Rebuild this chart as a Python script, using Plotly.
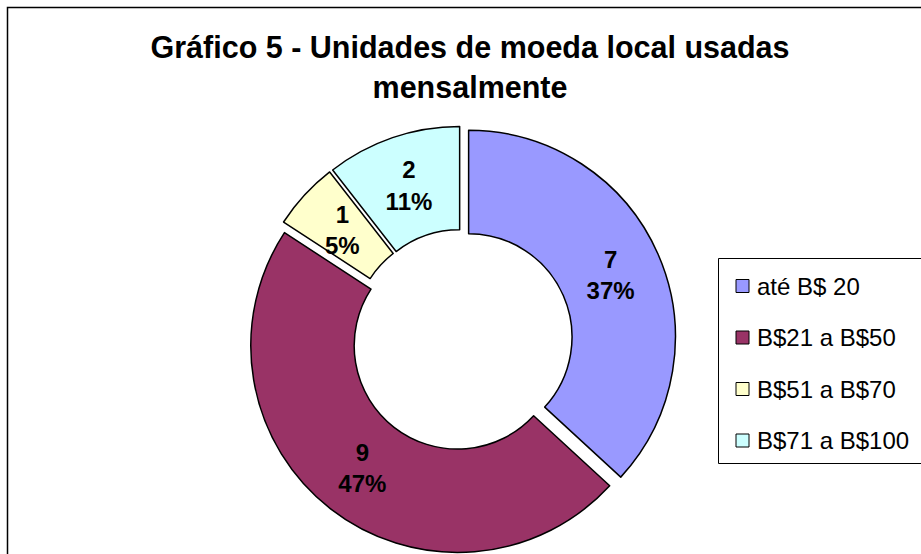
import math
import plotly.graph_objects as go

categories = ["até B$ 20", "B$21 a B$50", "B$51 a B$70", "B$71 a B$100"]
values = [7, 9, 1, 2]
colors = ["#9999FF", "#993366", "#FFFFCC", "#CCFFFF"]
title_text = "Gráfico 5 - Unidades de moeda local usadas<br>mensalmente"

W, H = 921, 554
FONT = "Liberation Sans, Arial, sans-serif"

# pie geometry (layout constants, pixels)
CX, CY = 462, 340          # centre of pie from left / top
BOX = 428                  # domain box size
PULL = 0.035
HOLE = 0.5
R = BOX / 2 / (1 + PULL)

# slices whose label is too small for plotly's inside-fit get an annotation instead
small = [v / sum(values) < 0.08 for v in values]

fig = go.Figure()
fig.add_trace(go.Pie(
    labels=categories,
    values=values,
    sort=False,
    direction="clockwise",
    rotation=0,
    hole=HOLE,
    pull=[PULL] * len(values),
    marker=dict(colors=colors, line=dict(color="black", width=1.5)),
    texttemplate="<b>%{value}<br>%{percent:.0%}</b>",
    textposition=["none" if s else "inside" for s in small],
    insidetextorientation="horizontal",
    textfont=dict(family=FONT, size=24, color="black"),
    domain=dict(x=[(CX - BOX / 2) / W, (CX + BOX / 2) / W], y=[0, BOX / H]),
    showlegend=False,
    hoverinfo="label+value+percent",
))

annotations = []
total = sum(values)
cum = 0
for v, s in zip(values, small):
    mid = (cum + v / 2) / total * 2 * math.pi
    cum += v
    if not s:
        continue
    rr = PULL * R + (1 + HOLE) / 2 * R
    px = CX + rr * math.sin(mid)
    py = CY - rr * math.cos(mid)
    annotations.append(dict(
        text="<b>%d<br>%d%%</b>" % (v, round(100 * v / total)),
        xref="paper", yref="paper", x=px / W, y=1 - py / H,
        xanchor="center", yanchor="middle", showarrow=False,
        font=dict(family=FONT, size=24, color="black")))

shapes = [
    # chart frame
    dict(type="rect", xref="paper", yref="paper",
         x0=7.5 / W, x1=1.1, y0=-0.1, y1=1 - 7.5 / H,
         line=dict(color="black", width=1.5), fillcolor="rgba(0,0,0,0)", layer="below"),
    # legend box
    dict(type="rect", xref="paper", yref="paper",
         x0=718.5 / W, x1=1.1, y0=1 - 463.5 / H, y1=1 - 258.5 / H,
         line=dict(color="black", width=1), fillcolor="white", layer="below"),
]
leg_y0, leg_dy = 286, 51.5
for i, (cat, col) in enumerate(zip(categories, colors)):
    yc = leg_y0 + i * leg_dy
    shapes.append(dict(type="rect", xref="paper", yref="paper",
                       x0=736 / W, x1=749 / W,
                       y0=1 - (yc + 6.5) / H, y1=1 - (yc - 6.5) / H,
                       line=dict(color="black", width=1), fillcolor=col))
    annotations.append(dict(text=cat, xref="paper", yref="paper",
                            x=755 / W, y=1 - yc / H, xanchor="left", yanchor="middle",
                            showarrow=False,
                            font=dict(family=FONT, size=24, color="black")))

fig.update_layout(
    width=W, height=H,
    margin=dict(l=0, r=0, t=0, b=0),
    paper_bgcolor="white",
    plot_bgcolor="white",
    title=dict(text="<b>" + title_text + "</b>", x=470 / W, xanchor="center",
               y=1 - 58 / H, yanchor="middle",
               font=dict(family=FONT, size=30.5, color="black")),
    shapes=shapes,
    annotations=annotations,
)

fig.write_html("out.html", config={"displayModeBar": False},
               post_script="document.body.style.margin='0';document.body.style.overflow='hidden';")
